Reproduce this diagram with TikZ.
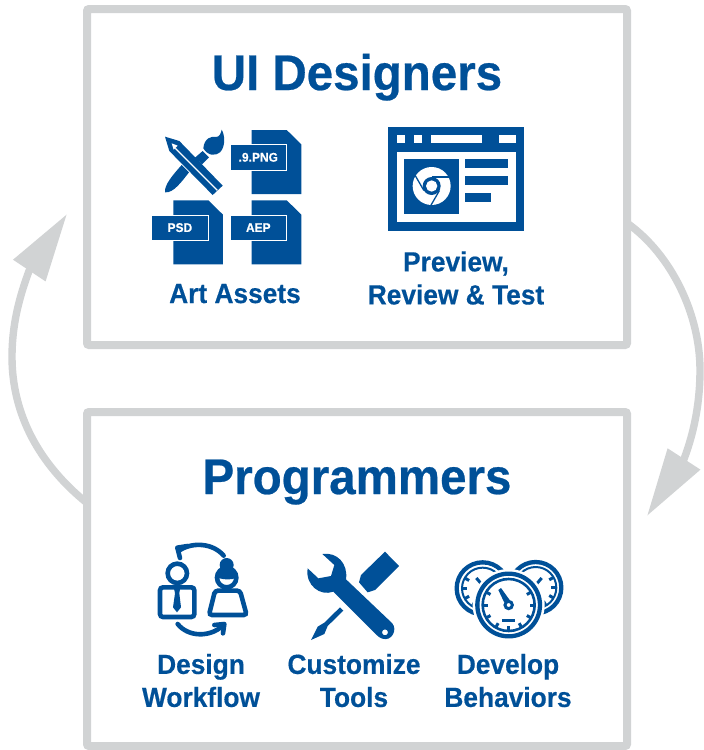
\documentclass[tikz,border=0pt]{standalone}
\usepackage{fontspec}
\setmainfont{Liberation Sans}[FakeStretch=0.95,BoldFeatures={FakeStretch=0.95,FakeBold=0.5}]
\usetikzlibrary{arrows.meta,positioning,calc}
\definecolor{brandblue}{RGB}{0,80,152}
\definecolor{flowgrey}{RGB}{209,211,212}
\tikzset{
  panel/.style = {draw=flowgrey, line width=8pt, rounded corners=2pt, minimum width=540pt, outer sep=0pt, inner sep=0pt},
  flowline/.style = {draw=flowgrey, line width=7.4pt, -{Triangle[length=68pt,width=37pt]}},
  title/.style = {text=brandblue, font=\fontsize{50}{50}\selectfont\bfseries, inner sep=0pt, anchor=base},
  caption/.style = {text=brandblue, font=\fontsize{27.7}{33}\selectfont\bfseries, inner sep=0pt, align=center},
  filetag/.style = {fill=brandblue, draw=white, line width=0.7pt, text=white, font=\fontsize{12.6}{12.6}\selectfont\bfseries, minimum width=56.7pt, minimum height=25.5pt, inner sep=0pt, outer sep=0pt},
  iconline/.style = {draw=brandblue, line width=4.6pt},
}
\newcommand{\fileicon}[4]{
  \fill [brandblue] (#1,#2) -- ++(35,0) -- ++(14.6,14.3) -- ++(0,49.7) -- ++(-49.6,0) -- cycle;
  \node [filetag] (#3) at (#1+6.6,#2+27.3) {#4};
}
\newcommand{\gaugeticks}[3]{
  \foreach \a in {#3} {
    \draw [brandblue, line width=3pt] ($(#1)+(\a:#2)$) -- ($(#1)+(\a:#2-15)$);
  }
}
\begin{document}
\begin{tikzpicture}[x=1pt,y=-1pt]
  \useasboundingbox (0,0) rectangle (704,750);

  \node [panel, minimum height=336pt] (designers) at (357,177) {};
  \node [panel, minimum height=334pt] (programmers) at (357,579) {};

  \coordinate (rightbase) at (684,459);
  \coordinate (righttip) at (647,516);
  \coordinate (leftbase) at (29,271);
  \coordinate (lefttip) at (67,214);
  \draw [flowline] ([yshift=-46pt]designers.east) .. controls (672,255) and (700,315) .. (700,370) .. controls (700,400) and (695,430) .. (rightbase) -- (righttip);
  \draw [flowline] ([yshift=76pt]programmers.west) .. controls (40,465) and (12,415) .. (12,357) .. controls (12,325) and (19,298) .. (leftbase) -- (lefttip);

  \node [title] (designerstitle) at (357,90) {UI Designers};
  \node [title] (programmerstitle) at (357,494) {Programmers};

  \node [caption, anchor=base] (artcaption) at (235,303) {Art Assets};
  \node [caption] (previewcaption) at (456,278) {Preview,\\Review \& Test};
  \node [caption] (workflowcaption) at (201,680.5) {Design\\Workflow};
  \node [caption] (toolscaption) at (354,680.5) {Customize\\Tools};
  \node [caption] (behaviorcaption) at (508,680.5) {Develop\\Behaviors};

  % art assets
  \fileicon{251.7}{130}{pngtag}{.9.PNG}
  \fileicon{173.3}{200.3}{psdtag}{PSD}
  \fileicon{251.7}{200.3}{aeptag}{AEP}
  \begin{scope}[shift={(140,115)},scale=1/3]
    \fill [brandblue] (75,65) -- (118,78) -- (248,212) -- (218,240) -- (88,108) -- cycle;
    \fill [white] (95,85) -- (113,92) -- (101,104) -- cycle;
    \draw [white, line width=1.2pt] (106,100) -- (232,226);
    \fill [brandblue] (75,232) .. controls (72,210) and (100,178) .. (125,150) -- (147,172) .. controls (125,200) and (100,235) .. (75,232) -- cycle;
    \fill [brandblue] (165,128) -- (188,108) -- (207,127) -- (186,148) -- cycle;
    \fill [brandblue] (190,100) .. controls (192,70) and (215,62) .. (228,66) .. controls (238,66) and (243,55) .. (245,44) .. controls (255,60) and (257,95) .. (240,112) .. controls (228,122) and (205,125) .. (190,100) -- cycle;
  \end{scope}

  % preview window
  \begin{scope}[shift={(375,115)},scale=1/3]
    \fill [brandblue] (40,35) rectangle (447,347);
    \fill [white] (65,60) rectangle (91,85);
    \fill [white] (117,60) rectangle (142,85);
    \fill [white] (167,60) rectangle (320,85);
    \fill [white] (372,60) rectangle (422,85);
    \fill [white] (65,110) rectangle (422,320);
    \fill [brandblue] (88,133) rectangle (252,297);
    \fill [brandblue] (270,133) rectangle (398,158);
    \fill [brandblue] (270,184) rectangle (398,209);
    \fill [brandblue] (270,235) rectangle (347,260);
    \fill [white] (170,213) circle [radius=57];
    \foreach \a in {0,120,240} {
      \begin{scope}[shift={(170,213)},rotate=\a]
        \draw [brandblue, line width=1.3pt] (0,-27) -- (52,-27);
      \end{scope}
    }
    \fill [brandblue] (170,213) circle [radius=27];
    \fill [white] (170,213) circle [radius=17];
  \end{scope}

  % design workflow
  \begin{scope}[shift={(145,530)},scale=1/3]
    \draw [iconline] (97,130) circle [radius=29];
    \draw [iconline, rounded corners=3pt] (45,172) rectangle (148,261);
    \fill [brandblue] (86,170) -- (106,170) -- (103,190) -- (108,232) -- (96,247) -- (84,232) -- (90,190) -- cycle;
    \fill [brandblue] (245,105) circle [radius=21];
    \draw [iconline] (245,143) circle [radius=29];
    \fill [brandblue] (216,143) arc [start angle=180, end angle=360, radius=29] .. controls (262,150) and (240,150) .. (216,143) -- cycle;
    \draw [iconline, rounded corners=3pt] (210,182) -- (285,182) -- (305,255) -- (192,255) -- cycle;
    \draw [iconline, line cap=round] (236,77) .. controls (205,40) and (145,35) .. (105,60);
    \draw [iconline, line cap=round, line join=round] (128,48) -- (97,53) -- (105,84);
    \draw [iconline, line cap=round] (98,282) .. controls (130,322) and (195,322) .. (232,288);
    \draw [iconline, line cap=round, line join=round] (208,285) -- (238,282) -- (234,310);
  \end{scope}

  % customize tools
  \begin{scope}[shift={(295,540)},scale=1/3]
    \fill [brandblue, even odd rule] (38,85) -- (70,115) -- (108,108) -- (118,75) -- (82,42) .. controls (125,35) and (160,70) .. (153,118) -- (292,250) .. controls (308,270) and (290,305) .. (262,296) .. controls (255,294) and (250,290) .. (245,285) -- (115,155) .. controls (75,170) and (30,135) .. (38,85) -- cycle
      (270,277) circle [radius=9];
    \fill [brandblue] (270,35) -- (312,78) -- (240,150) -- (218,157) -- (192,127) -- (198,105) -- cycle;
    \fill [brandblue] (135,202) -- (145,212) -- (98,258) -- (88,282) -- (48,300) -- (68,260) -- (88,248) -- cycle;
  \end{scope}

  % develop behaviors
  \begin{scope}[shift={(445,550)},scale=1/3]
    \coordinate (leftdial) at (113,115);
    \coordinate (rightdial) at (272,113);
    \coordinate (frontdial) at (191,165);
    \draw [brandblue, line width=4.3pt] (leftdial) circle [radius=78];
    \draw [brandblue, line width=2pt] (leftdial) circle [radius=62];
    \gaugeticks{leftdial}{62}{90,120,150,180,210,60}
    \draw [brandblue, line width=4.3pt] (rightdial) circle [radius=77];
    \draw [brandblue, line width=2pt] (rightdial) circle [radius=62];
    \gaugeticks{rightdial}{62}{90,60,30,0,-30,120}
    \draw [brandblue, line width=3pt] (94,84) -- (118,112);
    \draw [brandblue, line width=3pt] (290,84) -- (266,112);
    \fill [white] (frontdial) circle [radius=108];
    \draw [brandblue, line width=4.3pt] (frontdial) circle [radius=94];
    \draw [brandblue, line width=2.6pt] (frontdial) circle [radius=78];
    \gaugeticks{frontdial}{78}{-30,0,30,60,90,120,150,180,210}
    \fill [brandblue] (160,120) -- (168,114) -- (194,150) -- (178,158) -- cycle;
    \draw [brandblue, line width=3pt, fill=white] (frontdial) circle [radius=11];
    \fill [brandblue] (170,208) rectangle (209,217);
  \end{scope}
\end{tikzpicture}
\end{document}
